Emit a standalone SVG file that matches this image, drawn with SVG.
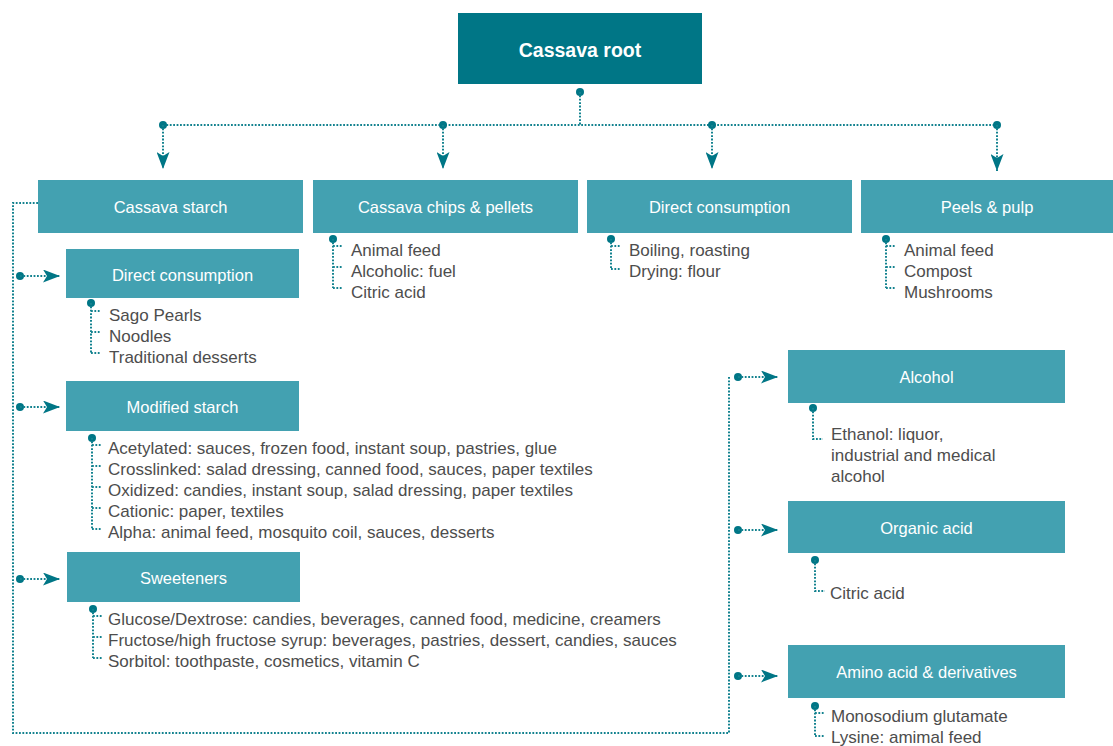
<svg xmlns="http://www.w3.org/2000/svg" width="1113" height="746" viewBox="0 0 1113 746">
<style>
.root{fill:#007686}
.box{fill:#43A1B1}
.hd{font-family:"Liberation Sans",Arial,sans-serif;font-size:16.5px;fill:#ffffff;text-anchor:middle}
.rt{font-family:"Liberation Sans",Arial,sans-serif;font-size:19.5px;font-weight:bold;fill:#ffffff;text-anchor:middle}
.tx{font-family:"Liberation Sans",Arial,sans-serif;font-size:17px;fill:#4d4d4d}
.ln{fill:none;stroke:#13828F;stroke-width:2;stroke-dasharray:1.8 1.6}
.dot{fill:#007686}
</style>
<defs>
<marker id="ah" viewBox="0 0 17 13" refX="17" refY="6.5" markerWidth="17" markerHeight="13" markerUnits="userSpaceOnUse" orient="auto">
<path d="M0,0 L17,6.5 L0,13 L4,6.5 Z" fill="#007686"/>
</marker>
</defs>

<g id="connectors">
<circle class="dot" cx="580" cy="92" r="4"/>
<path class="ln" d="M580,92 V125 M163,125 H997"/>
<circle class="dot" cx="163" cy="125" r="4"/>
<circle class="dot" cx="443" cy="125" r="4"/>
<circle class="dot" cx="712" cy="125" r="4"/>
<circle class="dot" cx="997" cy="125" r="4"/>
<path class="ln" d="M163,125 V169" marker-end="url(#ah)"/>
<path class="ln" d="M443,125 V169" marker-end="url(#ah)"/>
<path class="ln" d="M712,125 V169" marker-end="url(#ah)"/>
<path class="ln" d="M997,125 V171" marker-end="url(#ah)"/>

<path class="ln" d="M38,203 H13 V733 H729 V377"/>
<circle class="dot" cx="20" cy="276" r="4"/>
<path class="ln" d="M20,276 H60" marker-end="url(#ah)"/>
<circle class="dot" cx="20" cy="407" r="4"/>
<path class="ln" d="M20,407 H60" marker-end="url(#ah)"/>
<circle class="dot" cx="20" cy="579" r="4"/>
<path class="ln" d="M20,579 H60" marker-end="url(#ah)"/>
<circle class="dot" cx="738" cy="377" r="4"/>
<path class="ln" d="M738,377 H778" marker-end="url(#ah)"/>
<circle class="dot" cx="738" cy="530" r="4"/>
<path class="ln" d="M738,530 H778" marker-end="url(#ah)"/>
<circle class="dot" cx="738" cy="676" r="4"/>
<path class="ln" d="M738,676 H778" marker-end="url(#ah)"/>

<circle class="dot" cx="333" cy="239" r="4"/>
<path class="ln" d="M333,239 V288 M333,246 H343 M333,267 H343 M333,288 H343"/>
<circle class="dot" cx="611" cy="239" r="4"/>
<path class="ln" d="M611,239 V269 M611,246 H621 M611,269 H621"/>
<circle class="dot" cx="886" cy="239" r="4"/>
<path class="ln" d="M886,239 V288 M886,246 H896 M886,267 H896 M886,288 H896"/>
<circle class="dot" cx="91" cy="303" r="4"/>
<path class="ln" d="M91,303 V353 M91,311 H101 M91,332 H101 M91,353 H101"/>
<circle class="dot" cx="92" cy="438" r="4"/>
<path class="ln" d="M92,438 V529 M92,445 H102 M92,466 H102 M92,487 H102 M92,508 H102 M92,529 H102"/>
<circle class="dot" cx="93" cy="609" r="4"/>
<path class="ln" d="M93,609 V658 M93,616 H103 M93,637 H103 M93,658 H103"/>
<circle class="dot" cx="813" cy="408" r="4"/>
<path class="ln" d="M813,408 V439 H823"/>
<circle class="dot" cx="815" cy="560" r="4"/>
<path class="ln" d="M815,560 V591 H825"/>
<circle class="dot" cx="815" cy="706" r="4"/>
<path class="ln" d="M815,706 V736 M815,713 H825 M815,736 H825"/>
</g>

<g id="cassava-root">
<rect class="root" x="458" y="13" width="244" height="71"/>
<text class="rt" x="580" y="57">Cassava root</text>
</g>

<g id="cassava-starch">
<rect class="box" x="38" y="180" width="265" height="53"/>
<text class="hd" x="170.5" y="213">Cassava starch</text>
</g>

<g id="chips-pellets">
<rect class="box" x="313" y="180" width="265" height="53"/>
<text class="hd" x="445.5" y="213">Cassava chips &amp; pellets</text>
<text class="tx" x="351" y="256">Animal feed</text>
<text class="tx" x="351" y="277">Alcoholic: fuel</text>
<text class="tx" x="351" y="298">Citric acid</text>
</g>

<g id="direct-consumption-root">
<rect class="box" x="587" y="180" width="265" height="53"/>
<text class="hd" x="719.5" y="213">Direct consumption</text>
<text class="tx" x="629" y="256">Boiling, roasting</text>
<text class="tx" x="629" y="277">Drying: flour</text>
</g>

<g id="peels-pulp">
<rect class="box" x="861" y="180" width="252" height="53"/>
<text class="hd" x="987" y="213">Peels &amp; pulp</text>
<text class="tx" x="904" y="256">Animal feed</text>
<text class="tx" x="904" y="277">Compost</text>
<text class="tx" x="904" y="298">Mushrooms</text>
</g>

<g id="starch-direct-consumption">
<rect class="box" x="66" y="249" width="233" height="49"/>
<text class="hd" x="182.5" y="281">Direct consumption</text>
<text class="tx" x="109" y="321">Sago Pearls</text>
<text class="tx" x="109" y="342">Noodles</text>
<text class="tx" x="109" y="363">Traditional desserts</text>
</g>

<g id="modified-starch">
<rect class="box" x="66" y="381" width="233" height="50"/>
<text class="hd" x="182.5" y="413">Modified starch</text>
<text class="tx" x="108" y="454">Acetylated: sauces, frozen food, instant soup, pastries, glue</text>
<text class="tx" x="108" y="475">Crosslinked: salad dressing, canned food, sauces, paper textiles</text>
<text class="tx" x="108" y="496">Oxidized: candies, instant soup, salad dressing, paper textiles</text>
<text class="tx" x="108" y="517">Cationic: paper, textiles</text>
<text class="tx" x="108" y="538">Alpha: animal feed, mosquito coil, sauces, desserts</text>
</g>

<g id="sweeteners">
<rect class="box" x="67" y="552" width="233" height="50"/>
<text class="hd" x="183.5" y="584">Sweeteners</text>
<text class="tx" x="108" y="625">Glucose/Dextrose: candies, beverages, canned food, medicine, creamers</text>
<text class="tx" x="108" y="646">Fructose/high fructose syrup: beverages, pastries, dessert, candies, sauces</text>
<text class="tx" x="108" y="667">Sorbitol: toothpaste, cosmetics, vitamin C</text>
</g>

<g id="alcohol">
<rect class="box" x="788" y="350" width="277" height="53"/>
<text class="hd" x="926.5" y="383">Alcohol</text>
<text class="tx" x="831" y="440">Ethanol: liquor,</text>
<text class="tx" x="831" y="461">industrial and medical</text>
<text class="tx" x="831" y="482">alcohol</text>
</g>

<g id="organic-acid">
<rect class="box" x="788" y="501" width="277" height="52"/>
<text class="hd" x="926.5" y="534">Organic acid</text>
<text class="tx" x="830" y="599">Citric acid</text>
</g>

<g id="amino-acid">
<rect class="box" x="788" y="645" width="277" height="53"/>
<text class="hd" x="926.5" y="678">Amino acid &amp; derivatives</text>
<text class="tx" x="831" y="722">Monosodium glutamate</text>
<text class="tx" x="831" y="743">Lysine: amimal feed</text>
</g>
</svg>
